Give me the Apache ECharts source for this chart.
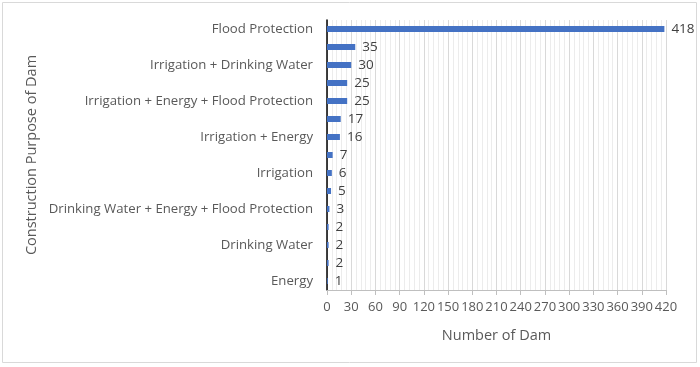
<!DOCTYPE html>
<html><head><meta charset="utf-8">
<script src="https://cdn.jsdelivr.net/npm/echarts@6/dist/echarts.min.js"></script>
<style>html,body{margin:0;padding:0;background:#fff}#c{width:700px;height:367px}</style>
</head><body><div id="c"></div>
<script>
const categories = [
  "Flood Protection",
  "Irrigation + Flood Protection",
  "Irrigation + Drinking Water",
  "Energy + Flood Protection",
  "Irrigation + Energy + Flood Protection",
  "Irrigation + Drinking Water + Energy",
  "Irrigation + Energy",
  "Drinking Water + Flood Protection",
  "Irrigation",
  "Irrigation + Drinking Water + Flood Protection",
  "Drinking Water + Energy + Flood Protection",
  "Drinking Water + Energy",
  "Drinking Water",
  "Irrigation + Drinking Water + Energy + Flood Protection",
  "Energy"
];
const values = [418, 35, 30, 25, 25, 17, 16, 7, 6, 5, 3, 2, 2, 2, 1];
const xTicks = {min: 0, max: 420, interval: 30};

const font = "'Open Sans', 'Noto Sans', sans-serif";
const chart = echarts.init(document.getElementById('c'), null, {renderer: 'canvas'});
chart.setOption({
  animation: false,
  textStyle: {fontFamily: font},
  graphic: [{
    type: 'rect', shape: {x: 2.5, y: 2.5, width: 694, height: 360},
    style: {fill: 'none', stroke: '#d9d9d9', lineWidth: 1}, silent: true, z: -1
  }],
  grid: {left: 327, right: 34, top: 20, bottom: 77, containLabel: false},
  xAxis: {
    type: 'value', min: xTicks.min, max: xTicks.max, interval: xTicks.interval,
    name: 'Number of Dam', nameLocation: 'middle', nameGap: 38,
    nameTextStyle: {fontSize: 14.5, color: '#595959', fontFamily: font},
    axisLine: {show: true, lineStyle: {color: '#bfbfbf', width: 1}},
    axisTick: {show: true, length: 5, lineStyle: {color: '#bfbfbf'}},
    axisLabel: {fontSize: 13, color: '#595959', margin: 11, fontFamily: font},
    splitLine: {show: true, lineStyle: {color: '#d9d9d9', width: 1}},
    minorSplitLine: {show: true, lineStyle: {color: '#ececec', width: 1}},
    minorTick: {show: false, splitNumber: 5}
  },
  yAxis: {
    type: 'category', data: categories, inverse: true,
    name: 'Construction Purpose of Dam', nameLocation: 'middle', nameGap: 288, nameRotate: 90,
    nameTextStyle: {fontSize: 14.5, color: '#595959', fontFamily: font},
    axisLine: {show: true, lineStyle: {color: '#000', width: 1.5}},
    axisTick: {show: false},
    axisLabel: {interval: 1, fontSize: 13.2, color: '#595959', margin: 14, fontFamily: font},
    splitLine: {show: false}
  },
  series: [{
    type: 'bar', data: values, barWidth: 6,
    itemStyle: {color: '#4472C4'},
    label: {show: true, position: 'right', distance: 7, fontSize: 13.5, color: '#404040', fontFamily: font}
  }]
});
</script></body></html>
